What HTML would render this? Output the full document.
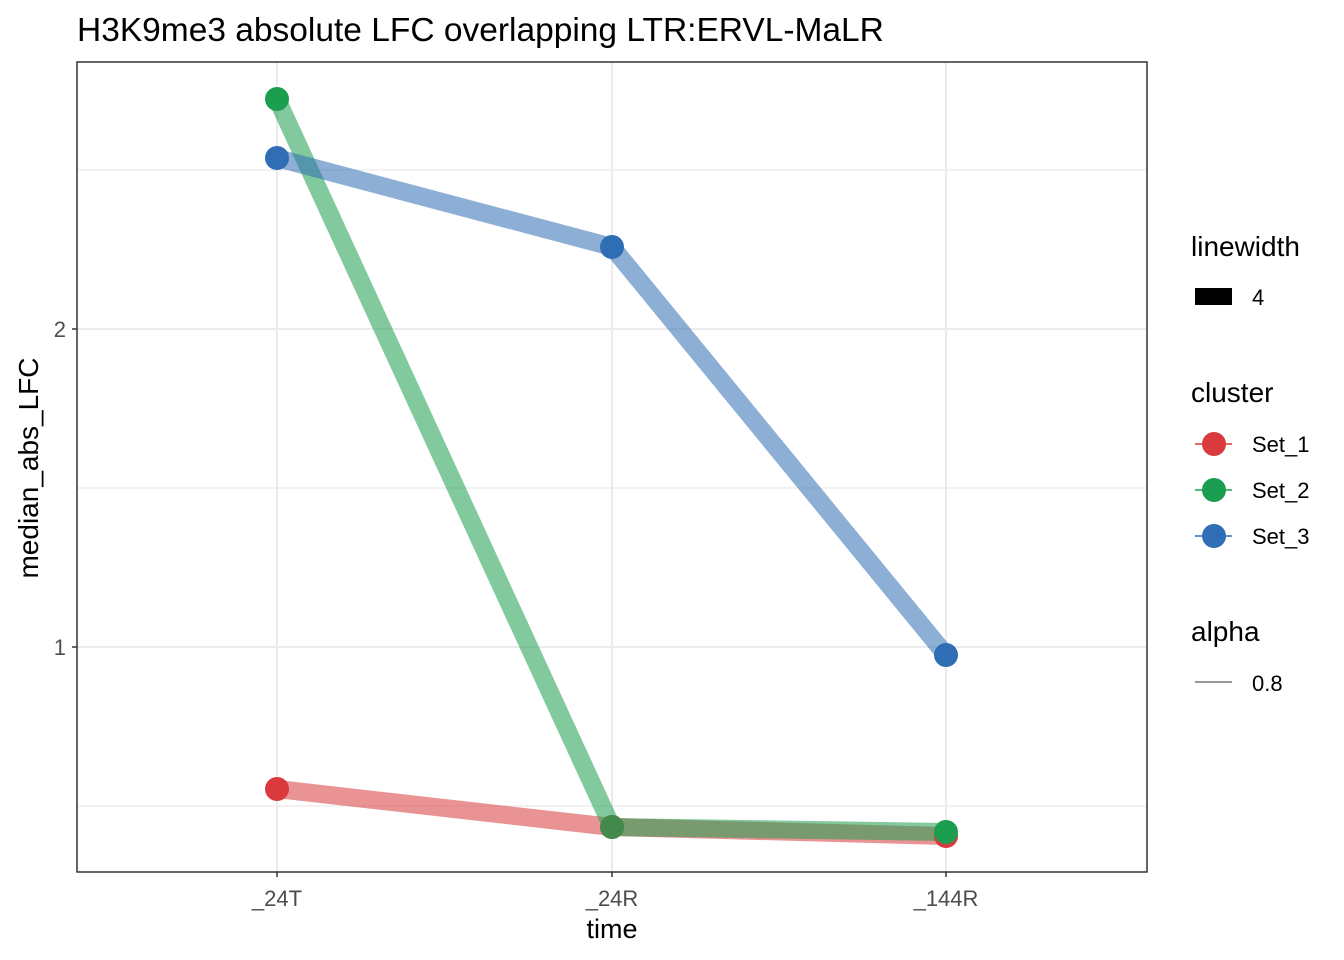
<!DOCTYPE html>
<html><head><style>body{margin:0;background:#fff}svg{display:block;font-family:"Liberation Sans",Arial,sans-serif}</style></head>
<body>
<svg width="1344" height="960" xmlns="http://www.w3.org/2000/svg">
<rect width="1344" height="960" fill="#fff"/>
<text x="77" y="41" font-size="33.5" fill="#000">H3K9me3 absolute LFC overlapping LTR:ERVL-MaLR</text>
<g stroke="#ebebeb" stroke-width="1.2">
<line x1="77" x2="1147" y1="170" y2="170"/><line x1="77" x2="1147" y1="488" y2="488"/><line x1="77" x2="1147" y1="806" y2="806"/>
</g>
<g stroke="#ebebeb" stroke-width="2">
<line x1="77" x2="1147" y1="329" y2="329"/><line x1="77" x2="1147" y1="647" y2="647"/>
<line x1="277" x2="277" y1="62" y2="872"/><line x1="612" x2="612" y1="62" y2="872"/><line x1="946" x2="946" y1="62" y2="872"/>
</g>
<g fill="none" stroke-width="18" stroke-linejoin="round" stroke-opacity="0.55">
<polyline points="277,789 612,827 946,836" stroke="#d93a3e"/>
<polyline points="277,99 612,827 946,832" stroke="#1b9e4f"/>
<polyline points="277,158 612,247 946,655" stroke="#2f6db5"/>
</g>
<g>
<circle cx="277" cy="789" r="12" fill="#d93a3e"/><circle cx="612" cy="827" r="12" fill="#d93a3e"/><circle cx="946" cy="836" r="12" fill="#d93a3e"/>
<circle cx="277" cy="99" r="12" fill="#1b9e4f"/><circle cx="612" cy="827" r="12" fill="#1b9e4f" fill-opacity="0.8"/><circle cx="946" cy="832" r="12" fill="#1b9e4f"/>
<circle cx="277" cy="158" r="12" fill="#2f6db5"/><circle cx="612" cy="247" r="12" fill="#2f6db5"/><circle cx="946" cy="655" r="12" fill="#2f6db5"/>
</g>
<rect x="77" y="62" width="1070" height="810" fill="none" stroke="#333" stroke-width="1.5"/>
<g stroke="#333" stroke-width="1.5">
<line x1="72" x2="77" y1="329" y2="329"/><line x1="72" x2="77" y1="647" y2="647"/>
<line x1="277" x2="277" y1="872" y2="877"/><line x1="612" x2="612" y1="872" y2="877"/><line x1="946" x2="946" y1="872" y2="877"/>
</g>
<g font-size="22" fill="#4d4d4d">
<text x="66" y="337" text-anchor="end">2</text><text x="66" y="655" text-anchor="end">1</text>
<text x="277" y="906" text-anchor="middle">_24T</text><text x="612" y="906" text-anchor="middle">_24R</text><text x="946" y="906" text-anchor="middle">_144R</text>
</g>
<text x="612" y="938" font-size="27" text-anchor="middle">time</text>
<text transform="translate(38,468) rotate(-90)" font-size="28" text-anchor="middle">median_abs_LFC</text>
<g font-size="28"><text x="1191" y="256">linewidth</text><text x="1191" y="402">cluster</text><text x="1191" y="641">alpha</text></g>
<rect x="1195" y="288" width="37" height="17" fill="#000"/>
<g font-size="22"><text x="1252" y="305">4</text><text x="1252" y="452">Set_1</text><text x="1252" y="498">Set_2</text><text x="1252" y="544">Set_3</text><text x="1252" y="691">0.8</text></g>
<g stroke-width="1.5">
<line x1="1195" x2="1232" y1="444" y2="444" stroke="#d93a3e"/><circle cx="1214" cy="444" r="12" fill="#d93a3e"/>
<line x1="1195" x2="1232" y1="490" y2="490" stroke="#1b9e4f"/><circle cx="1214" cy="490" r="12" fill="#1b9e4f"/>
<line x1="1195" x2="1232" y1="536" y2="536" stroke="#2f6db5"/><circle cx="1214" cy="536" r="12" fill="#2f6db5"/>
<line x1="1195" x2="1232" y1="682" y2="682" stroke="#777"/>
</g>
</svg>
</body></html>
